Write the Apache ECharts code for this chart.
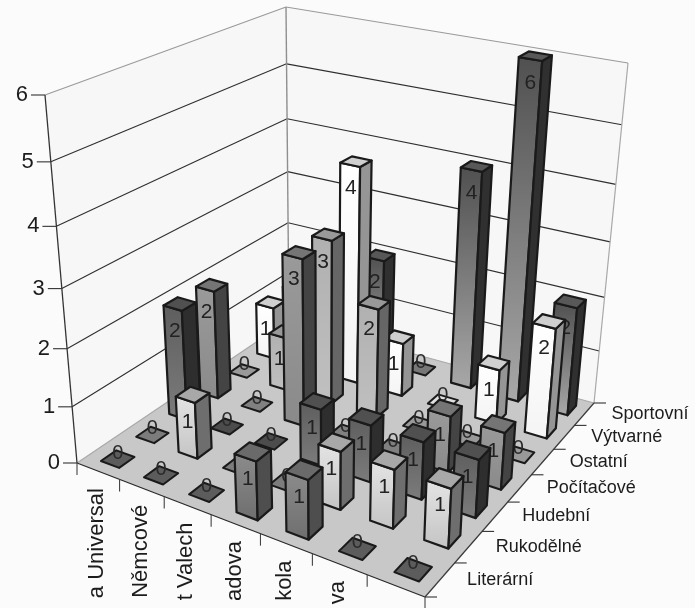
<!DOCTYPE html>
<html>
<head>
<meta charset="utf-8">
<style>html,body{margin:0;padding:0;background:#fbfbfb}#c{width:695px;height:608px}</style>
<script src="https://cdn.jsdelivr.net/npm/echarts@6/dist/echarts.min.js"></script>
</head>
<body>
<div id="c"></div>
<script>
// ---- data ----
const schools = ['a Universal', 'Němcové', 't Valech', 'adova', 'kola', 'va', ''];
const clubs = ['Literární', 'Rukodělné', 'Hudební', 'Počítačové', 'Ostatní', 'Výtvarné', 'Sportovní'];
const valueTicks = [0, 1, 2, 3, 4, 5, 6];
const literarni  = [0, 0, 0, 1, 1, 0, 0];
const rukodelne  = [0, 1, 0, 0, 1, 1, 1];
const hudebni    = [2, 0, 0, 1, 1, 1, 1];
const pocitacove = [2, 0, 3, 0, 0, 1, 1];
const ostatni    = [0, 1, 3, 2, 0, 0, 0];
const vytvarne   = [1, 0, 4, 1, 0, 1, 2];
const sportovni  = [1, 0, 2, 0, 4, 6, 2];
const clubValues = [literarni, rukodelne, hudebni, pocitacove, ostatni, vytvarne, sportovni];

// ---- shades per club: front top, front bottom, side, top, zero marker ----
const shades = [
  ['#8c8c8c', '#6e6e6e', '#4e4e4e', '#6a6a6a', '#5c5c5c'],
  ['#e4e4e4', '#c4c4c4', '#6e6e6e', '#a8a8a8', '#7c7c7c'],
  ['#5e5e5e', '#7c7c7c', '#2e2e2e', '#505050', '#4c4c4c'],
  ['#9a9a9a', '#8a8a8a', '#444444', '#757575', '#808080'],
  ['#b0b0b0', '#c0c0c0', '#666666', '#999999', '#999999'],
  ['#ffffff', '#f4f4f4', '#959595', '#cfcfcf', '#e0e0e0'],
  ['#505050', '#a8a8a8', '#303030', '#585858', '#777777']
];

// ---- 3D projection of the chart box ----
const floorQuad = [[77, 463], [425, 597], [594, 403], [289, 320]];
const ceilQuad  = [[45, 95], [441, 190], [628, 63], [286, 7]];
const riseBias = 1.11;
const GRID = 600;
const yMax = 6;

function quadMap(q) {
  const [a, b, c, d] = q;
  const sx = a[0] - b[0] + c[0] - d[0], sy = a[1] - b[1] + c[1] - d[1];
  const dx1 = b[0] - c[0], dx2 = d[0] - c[0], dy1 = b[1] - c[1], dy2 = d[1] - c[1];
  const den = dx1 * dy2 - dx2 * dy1;
  const g = (sx * dy2 - dx2 * sy) / den, h = (dx1 * sy - sx * dy1) / den;
  const A = b[0] - a[0] + g * b[0], B = d[0] - a[0] + h * d[0];
  const D = b[1] - a[1] + g * b[1], E = d[1] - a[1] + h * d[1];
  return (u, v) => {
    const w = g * u + h * v + 1;
    return [(A * u + B * v + a[0]) / w, (D * u + E * v + a[1]) / w];
  };
}
const floorAt = quadMap(floorQuad), ceilAt = quadMap(ceilQuad);
function project(u, v, t) {
  const f = floorAt(u, v), c = ceilAt(u, v);
  const s = t / (t + (1 - t) * riseBias);
  return [f[0] + (c[0] - f[0]) * s, f[1] + (c[1] - f[1]) * s];
}
const poly = (points, fill, stroke, lineWidth) => ({
  type: 'polygon', shape: { points },
  style: { fill, stroke, lineWidth: lineWidth || 0, lineJoin: 'round' }
});
const line = (p, q, stroke, lineWidth) => ({
  type: 'line', shape: { x1: p[0], y1: p[1], x2: q[0], y2: q[1] },
  style: { stroke, lineWidth: lineWidth || 1 }
});
const label = (text, x, y, size, align, fill) => ({
  type: 'text', x, y,
  style: { text: String(text), x: 0, y: 0, fill: fill || '#1c1c1c', align: align || 'center',
    verticalAlign: 'middle', font: size + 'px "Liberation Sans", Arial, sans-serif' }
});

function renderFrame() {
  const ch = [];
  const n = schools.length, m = clubs.length;
  // walls and floor
  ch.push(poly([project(0,0,0), project(0,1,0), project(0,1,1), project(0,0,1)], '#f7f7f7'));
  ch.push(poly([project(0,1,0), project(1,1,0), project(1,1,1), project(0,1,1)], '#f7f7f7'));
  ch.push(poly([project(0,0,0), project(1,0,0), project(1,1,0), project(0,1,0)], '#c8c8c8'));
  // gridlines
  valueTicks.forEach(val => {
    const t = val / yMax;
    const col = (val === yMax) ? '#9a9a9a' : (val === 0 ? '#a8a8a8' : '#2f2f2f');
    const a = project(0,0,t), b = project(0,1,t), c = project(1,1,t);
    ch.push(line(a, b, col, 1.1), line(b, c, col, 1.1));
    ch.push(line([a[0] - 14, a[1]], a, '#333', 1.1));
    ch.push(label(val, a[0] - 17, a[1], 22, 'right'));
  });
  // box edges
  ch.push(line(project(0,1,0), project(0,1,1), '#8f8f8f', 1.4));
  ch.push(line(project(1,1,0), project(1,1,1), '#a8a8a8', 1.2));
  ch.push(line(project(0,0,0), project(0,0,1), '#333', 1.3));
  ch.push(line(project(0,0,0), project(1,0,0), '#2a2a2a', 1.3));
  ch.push(line(project(1,0,0), project(1,1,0), '#3a3a3a', 1.2));
  // category ticks and labels
  for (let i = 0; i <= n; i++) {
    const p = project(i / n, 0, 0);
    ch.push(line(p, [p[0], p[1] + 12], '#444', 1.1));
    if (i < n && schools[i]) {
      const q = project((i + 0.5) / n, 0, 0);
      ch.push(Object.assign(label(schools[i], q[0] - 1, q[1] + 17, 22, 'right'), { rotation: Math.PI / 2 }));
    }
  }
  for (let j = 0; j <= m; j++) {
    const p = project(1, j / m, 0);
    ch.push(line(p, [p[0] + 12, p[1]], '#333', 1.1));
    if (j < m) {
      const q = project(1, (j + 0.5) / m, 0);
      ch.push(label(clubs[j], q[0] + 27, q[1], 18, 'left'));
    }
  }
  return { type: 'group', children: ch };
}

function renderBar(params, api) {
  const club = params.seriesIndex - 1;
  const pal = shades[6 - club];
  const xy = api.coord([api.value(0), api.value(1)]);
  const size = api.size([1, 1]);
  const u = xy[0] / GRID + 0.005, v = (GRID - xy[1]) / GRID;
  const hu = 0.215 * size[0] / GRID, hv = 0.215 * size[1] / GRID;
  const val = api.value(2), t = val / yMax;
  const u0 = u - hu, u1 = u + hu, v0 = v - hv, v1 = v + hv;
  const stroke = '#1a1a1a', lw = 2.2;
  const ch = [];
  if (val === 0) {
    ch.push(poly([project(u0,v0,0), project(u1,v0,0), project(u1,v1,0), project(u0,v1,0)], pal[4], stroke, 2));
    const c = project(u, v, 0);
    ch.push(label('0', c[0], c[1] - 6, 20, 'center', '#2a2a2a'));
  } else {
    const grad = new echarts.graphic.LinearGradient(0, 0, 0, 1,
      [{ offset: 0, color: pal[0] }, { offset: 1, color: pal[1] }]);
    ch.push(poly([project(u0,v0,0), project(u1,v0,0), project(u1,v0,t), project(u0,v0,t)], grad, stroke, lw));
    ch.push(poly([project(u1,v0,0), project(u1,v1,0), project(u1,v1,t), project(u1,v0,t)], pal[2], stroke, lw));
    ch.push(poly([project(u0,v0,t), project(u1,v0,t), project(u1,v1,t), project(u0,v1,t)], pal[3], stroke, lw));
    const c = project(u, v, t);
    ch.push(label(val, c[0] - 5, c[1] + 27, 21, 'center', '#222'));
  }
  return { type: 'group', children: ch };
}

// paint back rows first, left to right
const barSeries = clubs.map((name, k) => k).reverse().map(j => ({
  type: 'custom', name: clubs[j], renderItem: renderBar, clip: false, silent: true,
  encode: { x: 0, y: 1 },
  data: clubValues[j].map((val, i) => [i, j, val])
}));

const chart = echarts.init(document.getElementById('c'), null, { renderer: 'canvas' });
chart.setOption({
  animation: false,
  backgroundColor: '#fbfbfb',
  tooltip: { show: false },
  grid: { left: 0, top: 0, width: GRID, height: GRID, containLabel: false, outerBoundsMode: 'none' },
  xAxis: { type: 'category', data: schools, show: false },
  yAxis: { type: 'category', data: clubs, show: false },
  series: [{
    type: 'custom', name: 'frame', renderItem: renderFrame, clip: false, silent: true,
    encode: { x: 0, y: 1 }, data: [[0, 0]]
  }].concat(barSeries)
});
</script>
</body>
</html>
